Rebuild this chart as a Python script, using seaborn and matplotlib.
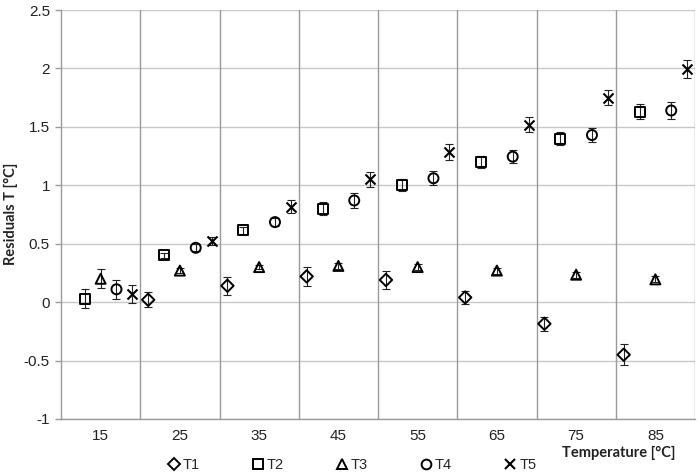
import numpy as np
import pandas as pd
import matplotlib
matplotlib.use("Agg")
import matplotlib.pyplot as plt
import seaborn as sns
from matplotlib.lines import Line2D

# ---- data ----
categories = ["15", "25", "35", "45", "55", "65", "75", "85"]
series_names = ["T1", "T2", "T3", "T4", "T5"]
T1 = [np.nan, 0.02, 0.14, 0.22, 0.19, 0.04, -0.185, -0.45]
T1_err = [np.nan, 0.065, 0.075, 0.078, 0.077, 0.057, 0.06, 0.09]
T2 = [0.03, 0.40, 0.615, 0.80, 1.00, 1.20, 1.40, 1.63]
T2_err = [0.083, 0.02, 0.03, 0.054, 0.053, 0.05, 0.056, 0.067]
T3 = [0.20, 0.27, 0.30, 0.31, 0.30, 0.27, 0.235, 0.195]
T3_err = [0.083, 0.02, 0.02, 0.025, 0.025, 0.025, 0.025, 0.025]
T4 = [0.11, 0.465, 0.685, 0.87, 1.06, 1.245, 1.43, 1.64]
T4_err = [0.08, 0.03, 0.035, 0.063, 0.06, 0.057, 0.061, 0.073]
T5 = [0.07, 0.52, 0.815, 1.05, 1.285, 1.52, 1.75, 1.995]
T5_err = [0.08, 0.035, 0.055, 0.066, 0.065, 0.064, 0.064, 0.078]
y_ticks = [-1, -0.5, 0, 0.5, 1, 1.5, 2, 2.5]
y_tick_labels = ["-1", "-0.5", "0", "0.5", "1", "1.5", "2", "2.5"]

values = [T1, T2, T3, T4, T5]
errors = [T1_err, T2_err, T3_err, T4_err, T5_err]

# ---- layout / style ----
offsets = [-0.4, -0.2, 0.0, 0.2, 0.4]
markers = ["D", "s", "^", "o", "x"]
msizes = [40, 52, 52, 52, 52]

rows = []
for name, vals, errs, off in zip(series_names, values, errors, offsets):
    for i, (v, e) in enumerate(zip(vals, errs)):
        rows.append({"series": name, "cat": categories[i], "x": i + off, "y": v, "err": e})
df = pd.DataFrame(rows)

sns.set_theme(style="white")
plt.rcParams["font.family"] = ["Liberation Sans", "DejaVu Sans"]

fig = plt.figure(figsize=(7.0, 4.75), dpi=100)
ax = fig.add_axes([61 / 700, 1 - 419 / 475, (695 - 61) / 700, (419 - 10) / 475])

# grid
for yv in y_ticks:
    ax.axhline(yv, color="#c8c8c8", lw=1.0, zorder=0)
for k in range(len(categories)):
    ax.axvline(k + 0.5, color="#9a9a9a", lw=1.0, zorder=0)

for name, mk, ms in zip(series_names, markers, msizes):
    d = df[df["series"] == name]
    ax.errorbar(d["x"], d["y"], yerr=d["err"], fmt="none", ecolor="#222222",
                elinewidth=0.8, capsize=2.8, capthick=0.8, zorder=2)
    if mk == "x":
        sns.scatterplot(data=d, x="x", y="y", marker=mk, s=ms, color="black",
                        linewidth=1.5, ax=ax, zorder=3, legend=False)
    else:
        sns.scatterplot(data=d, x="x", y="y", marker=mk, s=ms, facecolor="none",
                        edgecolor="black", linewidth=1.4, ax=ax, zorder=3, legend=False)

ax.set_xlim(-0.5, len(categories) - 0.5)
ax.set_ylim(-1, 2.5)
ax.set_xticks(range(len(categories)))
ax.set_xticklabels(categories, fontsize=11, color="#222222")
ax.set_yticks(y_ticks)
ax.set_yticklabels(y_tick_labels, fontsize=11, color="#222222")
ax.tick_params(axis="x", length=0, pad=7)
ax.tick_params(axis="y", length=4, width=1, color="#9a9a9a", pad=4, direction="out", left=True)

for s in ["top", "right"]:
    ax.spines[s].set_visible(False)
ax.spines["left"].set_color("#9a9a9a")
ax.spines["bottom"].set_color("#9a9a9a")
ax.spines["left"].set_linewidth(1.0)
ax.spines["bottom"].set_linewidth(1.0)

ax.set_xlabel("")
ax.set_ylabel("")
fig.text(676 / 700, 1 - 453 / 475, "Temperature [°C]", ha="right", va="center",
         fontsize=10.5, fontweight="bold", family=["Lato", "DejaVu Sans"], color="#222222")
fig.text(11 / 700, 1 - 214 / 475, "Residuals T [°C]", ha="center", va="center", rotation=90,
         fontsize=10.5, fontweight="bold", family=["Lato", "DejaVu Sans"], color="#222222")

handles = []
for name, mk in zip(series_names, markers):
    if mk == "x":
        h = Line2D([], [], marker=mk, linestyle="none", color="black", markersize=7, markeredgewidth=1.5)
    else:
        h = Line2D([], [], marker=mk, linestyle="none", markerfacecolor="none",
                   markeredgecolor="black", markersize=7 if mk != "D" else 6, markeredgewidth=1.4)
    handles.append(h)
fig.legend(handles, series_names, loc="center", bbox_to_anchor=(352 / 700, 1 - 465 / 475),
           ncol=5, frameon=False, fontsize=10.5, handlelength=0.8, handletextpad=0.2,
           columnspacing=3.6, borderaxespad=0)

fig.savefig("out.png", dpi=100)
